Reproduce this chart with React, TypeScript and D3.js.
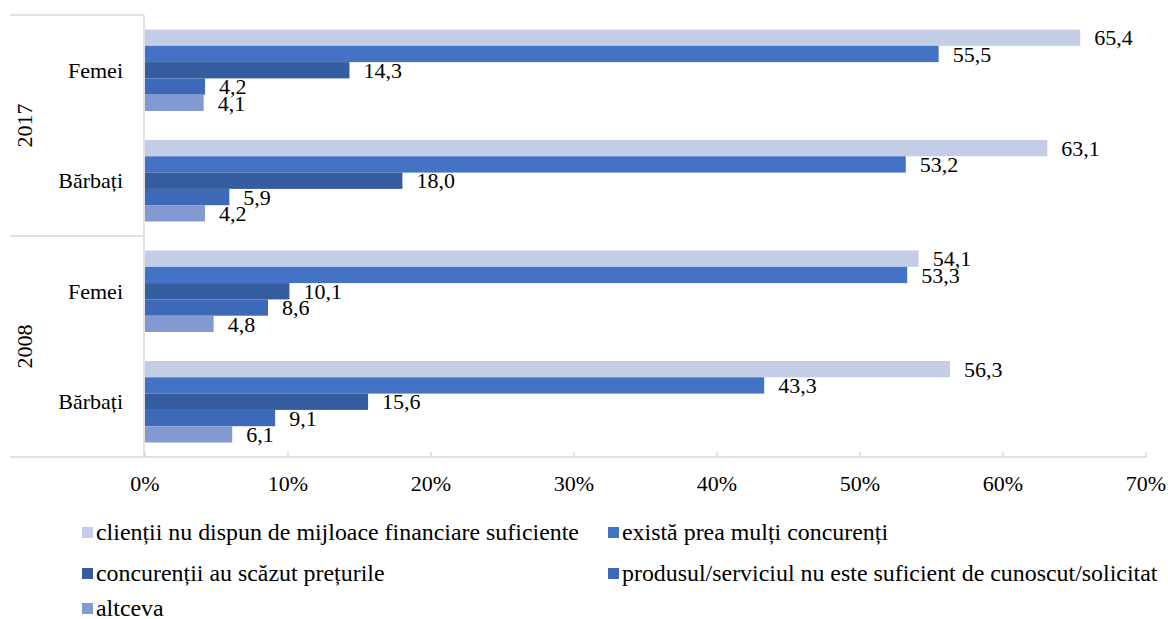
import React from "react";
import * as d3 from "d3";

const years = ["2017", "2008"];
const genders = ["Femei", "Bărbați"];
const seriesNames = [
  "clienții nu dispun de mijloace financiare suficiente",
  "există prea mulți concurenți",
  "concurenții au scăzut prețurile",
  "produsul/serviciul nu este suficient de cunoscut/solicitat",
  "altceva",
];
const seriesColors = ["#C3CDE5", "#4472C4", "#345C9F", "#3E69B8", "#8299D1"];
// values per group (2017 Femei, 2017 Bărbați, 2008 Femei, 2008 Bărbați), per series
const clienti = [65.4, 63.1, 54.1, 56.3];
const concurentiMulti = [55.5, 53.2, 53.3, 43.3];
const preturi = [14.3, 18.0, 10.1, 15.6];
const produsul = [4.2, 5.9, 8.6, 9.1];
const altceva = [4.1, 4.2, 4.8, 6.1];
const seriesValues = [clienti, concurentiMulti, preturi, produsul, altceva];
const xTicks = [0, 10, 20, 30, 40, 50, 60, 70];

const W = 1168;
const H = 619;
const FONT = "Liberation Serif, Times New Roman, DejaVu Serif, serif";

export default function App() {
  const left = 145;
  const right = 1146;
  const top = 15;
  const bottom = 457;
  const x = d3.scaleLinear().domain([0, 70]).range([left, right]);
  const groupKeys: string[] = [];
  years.forEach((yr) => genders.forEach((g) => groupKeys.push(yr + "|" + g)));
  const y = d3.scaleBand<string>().domain(groupKeys).range([top, bottom]);
  const bw = y.bandwidth();
  const inner = d3
    .scaleBand<number>()
    .domain(seriesNames.map((_, i) => i))
    .range([14.5, bw - 14.5]);
  const fmt = (v: number) => d3.format(".1f")(v).replace(".", ",");
  const gray = "#D9D9D9";

  const legendCols = [82, 608];
  const legendBaselines = [540, 581, 616];

  const txt = { fontFamily: FONT, fontSize: 22, fill: "#000" } as const;

  return (
    <div style={{ position: "absolute", left: 0, top: 0 }}>
      <svg width={W} height={H} style={{ display: "block" }}>
        <rect width={W} height={H} fill="#fff" />
        {/* separators */}
        <line x1={10} x2={left - 1} y1={top} y2={top} stroke={gray} strokeWidth={1.5} />
        <line
          x1={10}
          x2={left - 1}
          y1={y(years[1] + "|" + genders[0])!}
          y2={y(years[1] + "|" + genders[0])!}
          stroke={gray}
          strokeWidth={1.5}
        />
        <line x1={10} x2={right + 1} y1={bottom} y2={bottom} stroke={gray} strokeWidth={1.5} />
        <line x1={left - 1} x2={left - 1} y1={top} y2={bottom} stroke={gray} strokeWidth={1.5} />
        {xTicks.map((t) => (
          <g key={t}>
            <line x1={x(t)} x2={x(t)} y1={bottom - 5} y2={bottom} stroke={gray} strokeWidth={1.5} />
            <text x={x(t)} y={483} textAnchor="middle" dy="0.35em" {...txt}>
              {t + "%"}
            </text>
          </g>
        ))}
        {/* bars */}
        {groupKeys.map((k, gi) => (
          <g key={k}>
            {seriesValues.map((vals, si) => {
              const y0 = y(k)! + inner(si)!;
              const h = inner.bandwidth();
              return (
                <g key={si}>
                  <rect
                    x={x(0)}
                    y={y0}
                    width={x(vals[gi]) - x(0)}
                    height={h}
                    fill={seriesColors[si]}
                  />
                  <text x={x(vals[gi]) + 14} y={y0 + h / 2} dy="0.35em" {...txt}>
                    {fmt(vals[gi])}
                  </text>
                </g>
              );
            })}
            <text x={123} y={y(k)! + bw / 2} dy="0.35em" textAnchor="end" {...txt}>
              {k.split("|")[1]}
            </text>
          </g>
        ))}
        {/* year labels */}
        {years.map((yr) => {
          const cy = y(yr + "|" + genders[0])! + bw;
          return (
            <text
              key={yr}
              transform={`translate(24,${cy}) rotate(-90)`}
              textAnchor="middle"
              dy="0.35em"
              {...txt}
            >
              {yr}
            </text>
          );
        })}
        {/* legend */}
        {seriesNames.map((name, i) => {
          const col = i % 2;
          const row = Math.floor(i / 2);
          const lx = legendCols[col];
          const by = legendBaselines[row];
          return (
            <g key={name}>
              <rect x={lx} y={by - 13} width={11} height={11} fill={seriesColors[i]} />
              <text x={lx + 14} y={by} {...txt} fontSize={23.9}>
                {name}
              </text>
            </g>
          );
        })}
      </svg>
    </div>
  );
}
